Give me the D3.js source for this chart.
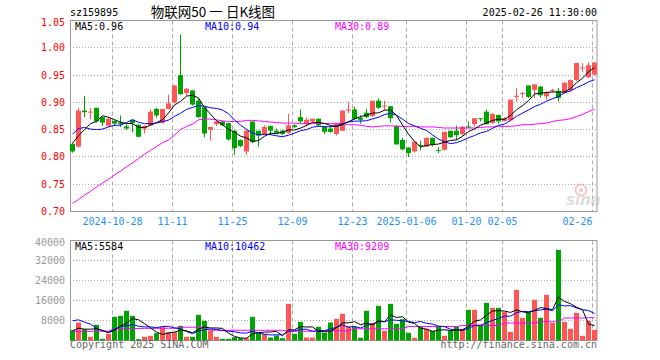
<!DOCTYPE html>
<html>
<head>
<meta charset="utf-8">
<script src="https://cdn.jsdelivr.net/npm/d3@7"></script>
<style>
  body { margin: 0; background: #fff; }
  text { font-family: "DejaVu Sans Mono", monospace; font-size: 10px; }
</style>
</head>
<body>
<div id="chart"></div>
<script>
// daily candles, 2024-10-17 .. 2025-02-26
var open  = [0.824,0.819,0.885,0.882,0.890,0.873,0.857,0.866,0.863,0.856,0.868,0.859,0.852,0.858,0.888,0.863,0.888,0.900,0.950,0.917,0.922,0.903,0.891,0.850,0.860,0.865,0.862,0.848,0.831,0.810,0.865,0.848,0.840,0.857,0.848,0.848,0.844,0.858,0.873,0.860,0.865,0.870,0.855,0.852,0.842,0.848,0.886,0.887,0.872,0.881,0.875,0.903,0.893,0.893,0.857,0.831,0.817,0.810,0.822,0.819,0.835,0.813,0.813,0.848,0.848,0.842,0.856,0.860,0.871,0.883,0.862,0.877,0.866,0.867,0.910,0.916,0.931,0.923,0.929,0.911,0.922,0.921,0.917,0.922,0.941,0.963,0.946,0.951];
var high  = [0.826,0.890,0.912,0.890,0.890,0.874,0.873,0.867,0.876,0.860,0.869,0.860,0.858,0.887,0.890,0.888,0.914,0.932,1.024,0.926,0.922,0.906,0.891,0.855,0.866,0.866,0.863,0.850,0.832,0.850,0.865,0.848,0.858,0.857,0.852,0.850,0.879,0.860,0.887,0.872,0.870,0.870,0.856,0.856,0.862,0.885,0.900,0.892,0.876,0.888,0.903,0.907,0.903,0.893,0.858,0.835,0.818,0.828,0.830,0.836,0.835,0.818,0.846,0.848,0.857,0.857,0.865,0.871,0.871,0.887,0.880,0.877,0.873,0.905,0.926,0.919,0.931,0.933,0.929,0.920,0.925,0.926,0.937,0.942,0.972,0.972,0.974,0.973];
var low   = [0.808,0.817,0.873,0.869,0.863,0.857,0.855,0.856,0.855,0.850,0.845,0.836,0.843,0.857,0.872,0.861,0.887,0.898,0.913,0.913,0.894,0.871,0.836,0.830,0.856,0.857,0.830,0.804,0.818,0.804,0.825,0.819,0.840,0.840,0.842,0.840,0.842,0.853,0.862,0.856,0.862,0.856,0.842,0.844,0.839,0.847,0.880,0.868,0.861,0.871,0.873,0.888,0.885,0.863,0.822,0.812,0.800,0.808,0.812,0.818,0.819,0.807,0.812,0.835,0.831,0.839,0.853,0.856,0.865,0.859,0.861,0.861,0.865,0.865,0.901,0.908,0.908,0.908,0.909,0.905,0.918,0.902,0.916,0.920,0.939,0.956,0.944,0.949];
var close = [0.810,0.885,0.882,0.883,0.865,0.863,0.870,0.861,0.860,0.852,0.862,0.837,0.857,0.883,0.876,0.888,0.898,0.931,0.915,0.925,0.896,0.873,0.843,0.855,0.865,0.858,0.832,0.816,0.820,0.848,0.827,0.839,0.855,0.848,0.844,0.842,0.858,0.855,0.865,0.868,0.870,0.858,0.846,0.846,0.860,0.885,0.887,0.870,0.868,0.873,0.903,0.890,0.894,0.871,0.823,0.814,0.807,0.828,0.821,0.835,0.822,0.812,0.846,0.836,0.840,0.855,0.855,0.871,0.870,0.860,0.879,0.865,0.871,0.905,0.912,0.917,0.910,0.933,0.913,0.917,0.923,0.908,0.936,0.941,0.972,0.964,0.968,0.973];
var volume = [4130,7200,4530,1470,6270,670,2670,9470,9870,11870,9870,530,1470,1870,2930,5330,3330,3330,5870,1470,1470,10270,7870,4000,1470,670,670,1330,930,930,9470,2930,2530,1200,2000,930,14670,2670,7470,1200,1200,5470,3200,7200,8670,10670,5600,5600,1070,11870,6930,13870,3870,14670,6670,8530,3070,1070,5470,4670,3870,5600,1870,3870,5600,4670,12270,12270,6270,15070,13070,13070,11470,3470,20270,9070,11200,16270,9070,18270,7070,36270,7470,4670,11070,1870,7870,4270];

// moving averages before enough candles are on screen
var ma5Lead  = [0.825,0.839,0.850,0.861];
var ma10Lead = [0.842,0.852,0.854,0.851,0.850,0.851,0.855,0.858,0.858];
var ma30 = [0.715,0.722,0.730,0.737,0.745,0.752,0.759,0.767,0.774,0.782,0.789,0.797,0.805,0.812,0.819,0.826,0.831,0.840,0.850,0.856,0.860,0.868,0.870,0.869,0.868,0.866,0.865,0.865,0.865,0.867,0.867,0.866,0.865,0.864,0.863,0.862,0.862,0.862,0.861,0.861,0.861,0.861,0.861,0.861,0.861,0.861,0.859,0.859,0.858,0.856,0.855,0.856,0.857,0.857,0.856,0.856,0.856,0.856,0.855,0.855,0.855,0.854,0.853,0.853,0.853,0.853,0.853,0.853,0.854,0.855,0.855,0.856,0.856,0.856,0.857,0.859,0.859,0.860,0.861,0.862,0.865,0.867,0.868,0.870,0.874,0.878,0.883,0.888];
var vma5Lead  = [3870,4930,4530,4530];
var vma10Lead = [7870,8270,7330,6530,4930,3870,3330,4530,5600];
var vma30 = [3600,3600,3650,3650,3700,3700,3750,4700,4750,4800,4800,4800,4850,4850,4850,4900,4900,4900,5300,5300,5300,5300,5300,4100,4100,4100,4100,4100,4100,4100,4100,4100,4100,4100,4100,4100,3700,3700,3700,3700,3700,3700,3800,3900,3900,3900,3900,4670,4670,4670,4670,4670,4670,4670,4670,4670,5600,5600,5600,5600,5600,5600,5600,5600,5600,6000,6000,6000,6000,6000,6000,6000,7000,7000,7000,7000,7000,7000,7500,7500,7500,7500,9000,9000,9000,9000,9100,9209];

var tickIdx    = [7,17,27,37,47,56,66,72,87];
var tickLabels = ["2024-10-28","11-11","11-25","12-09","12-23","2025-01-06","01-20","02-05","02-26"];
var priceTicks = [1.05,1.00,0.95,0.90,0.85,0.80,0.75,0.70];
var volTicks   = [40000,32000,24000,16000,8000];

var UP = "#ff5555", DOWN = "#00a400", GRID = "#aaa", FRAME = "#999";

function movAvg(arr, n, lead) {
  return arr.map(function(d, i) {
    if (i < n - 1) return lead[i];
    return d3.mean(arr.slice(i - n + 1, i + 1));
  });
}
var ma5 = movAvg(close, 5, ma5Lead),
    ma10 = movAvg(close, 10, ma10Lead),
    vma5 = movAvg(volume, 5, vma5Lead),
    vma10 = movAvg(volume, 10, vma10Lead);

var svg = d3.select("#chart").append("svg")
    .attr("width", 660)
    .attr("height", 360);

var x = d3.scaleBand()
    .domain(d3.range(close.length))
    .range([70, 598]);
var bw = x.bandwidth() - 1;

var y = d3.scaleLinear().domain([0.70, 1.05]).range([211.5, 20.5]);
var yv = d3.scaleLinear().domain([0, 40000]).range([340.5, 240.5]);

function crisp(v) { return Math.round(v - 0.5) + 0.5; }

// header
svg.append("text").attr("x", 70).attr("y", 16).text("sz159895");
svg.append("text").attr("x", 213).attr("y", 17)
    .attr("text-anchor", "middle")
    .style("font-family", "'Noto Sans CJK SC', sans-serif")
    .style("font-size", "13.5px")
    .style("white-space", "pre")
    .text("物联网50 一 日K线图");
svg.append("text").attr("x", 597).attr("y", 16)
    .attr("text-anchor", "end")
    .text("2025-02-26 11:30:00");

function panel(yScale, ticks, top, bottom, labelColor, fmt) {
  var g = svg.append("g");
  // horizontal dotted grid
  g.selectAll(".hg")
    .data(ticks.filter(function(t) {
      var p = yScale(t); return p > top + 1 && p < bottom - 1;
    }))
    .enter().append("line")
      .attr("x1", 70).attr("x2", 597)
      .attr("y1", function(d) { return crisp(yScale(d)); })
      .attr("y2", function(d) { return crisp(yScale(d)); })
      .attr("stroke", GRID)
      .attr("stroke-dasharray", "1,2");
  // vertical dashed grid
  g.selectAll(".vg")
    .data(tickIdx)
    .enter().append("line")
      .attr("x1", function(d) { return x(d) + 0.5; })
      .attr("x2", function(d) { return x(d) + 0.5; })
      .attr("y1", top).attr("y2", bottom)
      .attr("stroke", GRID)
      .attr("stroke-dasharray", "4,3");
  g.append("rect")
    .attr("x", 70.5).attr("y", top)
    .attr("width", 526.5).attr("height", bottom - top)
    .attr("fill", "none")
    .attr("stroke", FRAME);
  g.selectAll(".yl")
    .data(ticks)
    .enter().append("text")
      .attr("x", 65)
      .attr("y", function(d) { return Math.max(yScale(d), top + 2) + 3.5; })
      .attr("text-anchor", "end")
      .attr("fill", labelColor)
      .text(fmt);
}

panel(y, priceTicks, 20.5, 211.5, "#ff0000", d3.format(".2f"));
panel(yv, volTicks, 240.5, 340.5, "#999", d3.format("d"));

// watermark
var wm = svg.append("g").attr("opacity", 0.6);
wm.append("circle").attr("cx", 581).attr("cy", 190).attr("r", 5.5)
    .attr("fill", "none").attr("stroke", "#f0a0a0").attr("stroke-width", 2);
wm.append("circle").attr("cx", 581).attr("cy", 190).attr("r", 2).attr("fill", "#f0a0a0");
wm.append("text").attr("x", 566).attr("y", 205)
    .style("font-family", "'DejaVu Sans', sans-serif")
    .style("font-size", "15px").style("font-weight", "bold").style("font-style", "italic")
    .attr("fill", "#c8c8c8")
    .text("sina");

// x labels
svg.selectAll(".xl")
  .data(tickIdx)
  .enter().append("text")
    .attr("x", function(d) { return x(d) + 0.5; })
    .attr("y", 225)
    .attr("text-anchor", function(d, i) { return i === tickIdx.length - 1 ? "end" : "middle"; })
    .attr("fill", "#1e90ff")
    .text(function(d, i) { return tickLabels[i]; });

// candles
var idx = d3.range(close.length);
var candles = svg.append("g");
candles.selectAll(".wick")
  .data(idx)
  .enter().append("line")
    .attr("x1", function(i) { return x(i) + 2.5; })
    .attr("x2", function(i) { return x(i) + 2.5; })
    .attr("y1", function(i) { return y(high[i]); })
    .attr("y2", function(i) { return y(low[i]); })
    .attr("stroke", function(i) { return close[i] >= open[i] ? UP : DOWN; });
candles.selectAll(".body")
  .data(idx)
  .enter().append("rect")
    .attr("x", function(i) { return x(i); })
    .attr("width", bw)
    .attr("y", function(i) { return y(Math.max(open[i], close[i])); })
    .attr("height", function(i) { return Math.max(1, Math.abs(y(open[i]) - y(close[i]))); })
    .attr("fill", function(i) { return close[i] >= open[i] ? UP : DOWN; });

// volume bars
svg.append("g").selectAll("rect")
  .data(idx)
  .enter().append("rect")
    .attr("x", function(i) { return x(i); })
    .attr("width", bw)
    .attr("y", function(i) { return yv(volume[i]); })
    .attr("height", function(i) { return yv(0) - yv(volume[i]); })
    .attr("fill", function(i) { return close[i] >= open[i] ? UP : DOWN; });

function maLine(vals, scale, color) {
  svg.append("path")
    .datum(vals)
    .attr("fill", "none")
    .attr("stroke", color)
    .attr("stroke-width", 1)
    .attr("d", d3.line()
      .x(function(d, i) { return x(i) + 2.5; })
      .y(function(d) { return scale(d); }));
}
maLine(ma30, y, "#ff00ff");
maLine(ma10, y, "#0000ff");
maLine(ma5, y, "#000000");
maLine(vma30, yv, "#ff00ff");
maLine(vma10, yv, "#0000ff");
maLine(vma5, yv, "#000000");

// legends
function legend(yPos, items) {
  var xs = [75, 205, 335];
  items.forEach(function(it, k) {
    svg.append("text").attr("x", xs[k]).attr("y", yPos)
      .attr("fill", it[1]).text(it[0]);
  });
}
legend(29.5, [["MA5:0.96", "#000"], ["MA10:0.94", "#0000ff"], ["MA30:0.89", "#ff00ff"]]);
legend(250, [["MA5:5584", "#000"], ["MA10:10462", "#0000ff"], ["MA30:9209", "#ff00ff"]]);

// footer
svg.append("text").attr("x", 70).attr("y", 348).attr("fill", "#666")
    .text("Copyright 2025 SINA.COM");
svg.append("text").attr("x", 597).attr("y", 348).attr("fill", "#666")
    .attr("text-anchor", "end")
    .text("http://finance.sina.com.cn");
</script>
</body>
</html>
